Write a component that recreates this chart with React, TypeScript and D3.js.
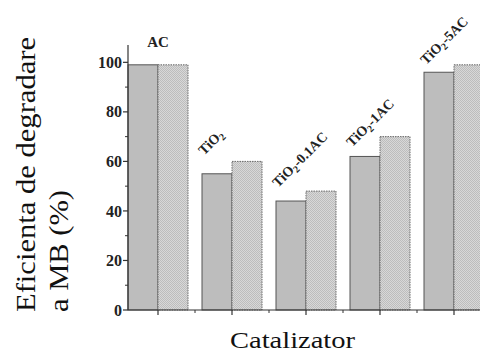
import React from "react";
import * as d3 from "d3";

const categories = ["AC", "TiO2", "TiO2-0.1AC", "TiO2-1AC", "TiO2-5AC"];
const series1 = [99, 55, 44, 62, 96];
const series2 = [99, 60, 48, 70, 99];
const yTicks = [0, 20, 40, 60, 80, 100];
const yMinorTicks = [10, 30, 50, 70, 90];
const yTitleLines = ["Eficienta de degradare", "a MB (%)"];
const xTitle = "Catalizator";

const W = 480;
const H = 354;
const labelDy = [0, -18, -13, -9, -7];
const SERIF = "'Liberation Serif', 'Times New Roman', serif";

function CatLabel({ name }: { name: string }) {
  if (name.startsWith("TiO2")) {
    const rest = name.slice(4);
    return (
      <>
        <tspan>TiO</tspan>
        <tspan dy={3} fontSize={10}>2</tspan>
        <tspan dy={-3}>{rest}</tspan>
      </>
    );
  }
  return <>{name}</>;
}

export default function App() {
  const y = d3.scaleLinear().domain([0, 107]).range([310, 45]);
  const x = d3
    .scaleBand<string>()
    .domain(categories)
    .range([121, 491])
    .paddingInner(14 / 74)
    .paddingOuter(7 / 74);
  const inner = d3.scaleBand<string>().domain(["a", "b"]).range([0, x.bandwidth()]);
  const x0 = 128;
  const yBase = y(0);
  const minorX = categories.slice(0, -1).map((c) => x(c)! + x.bandwidth() / 2 + x.step() / 2);

  return (
    <svg width={W} height={H} style={{ position: "absolute", left: 0, top: 0, background: "#fff" }}
      fontFamily={SERIF}>
      <defs>
        <pattern id="chk" width="2" height="2" patternUnits="userSpaceOnUse">
          <rect width="2" height="2" fill="#d8d8d8" />
          <rect width="1" height="1" fill="#bdbdbd" />
          <rect x="1" y="1" width="1" height="1" fill="#bdbdbd" />
        </pattern>
      </defs>
      {categories.map((c, i) => (
        <g key={c}>
          <rect x={x(c)! + inner("a")!} y={y(series1[i])} width={inner.bandwidth()}
            height={yBase - y(series1[i])} fill="#bdbdbd" stroke="#555" strokeWidth={1} />
          <rect x={x(c)! + inner("b")!} y={y(series2[i])} width={inner.bandwidth()}
            height={yBase - y(series2[i])} fill="url(#chk)" stroke="#666" strokeWidth={1}
            strokeDasharray="1.5 1" />
        </g>
      ))}
      <line x1={x0} x2={x0} y1={y(107)} y2={yBase} stroke="#333" strokeWidth={1.2} />
      <line x1={x0} x2={W} y1={yBase} y2={yBase} stroke="#333" strokeWidth={1.2} />
      {yTicks.map((t) => (
        <g key={t}>
          <line x1={x0 - 5} x2={x0} y1={y(t)} y2={y(t)} stroke="#333" strokeWidth={1.2} />
          <text x={x0 - 6} y={y(t)} dy="0.35em" textAnchor="end" fontSize={16} fontWeight="bold"
            fill="#222" fontFamily={SERIF}>
            {t}
          </text>
        </g>
      ))}
      {yMinorTicks.map((t) => (
        <line key={t} x1={x0 - 3} x2={x0} y1={y(t)} y2={y(t)} stroke="#333" strokeWidth={1} />
      ))}
      {categories.map((c) => (
        <line key={c} x1={x(c)! + x.bandwidth() / 2} x2={x(c)! + x.bandwidth() / 2} y1={yBase} y2={yBase + 5}
          stroke="#333" strokeWidth={1.2} />
      ))}
      {minorX.map((mx, i) => (
        <line key={i} x1={mx} x2={mx} y1={yBase} y2={yBase + 3} stroke="#333" strokeWidth={1} />
      ))}
      {categories.map((c, i) => {
        if (i === 0) {
          return (
            <text key={c} x={x(c)! + x.bandwidth() / 2} y={47} textAnchor="middle" fontSize={15}
              fontWeight="bold" fill="#222" fontFamily={SERIF}>
              {c}
            </text>
          );
        }
        const lx = x(c)! + 2;
        const ly = y(series1[i]) + labelDy[i];
        return (
          <g key={c} transform={`translate(${lx},${ly}) rotate(-45)`}>
            <text x={0} y={0} fontSize={14} fontWeight="bold" fill="#222" fontFamily={SERIF}>
              <CatLabel name={c} />
            </text>
          </g>
        );
      })}
      <text transform="translate(35,312) rotate(-90)" fontSize={28} fill="#111" textLength={275}
        lengthAdjust="spacingAndGlyphs" fontFamily={SERIF}>
        {yTitleLines[0]}
      </text>
      <text transform="translate(68,312) rotate(-90)" fontSize={28} fill="#111" textLength={122}
        lengthAdjust="spacingAndGlyphs" fontFamily={SERIF}>
        {yTitleLines[1]}
      </text>
      <text x={230} y={348} fontSize={24} fill="#111" textLength={125} lengthAdjust="spacingAndGlyphs"
        fontFamily={SERIF}>
        {xTitle}
      </text>
    </svg>
  );
}
